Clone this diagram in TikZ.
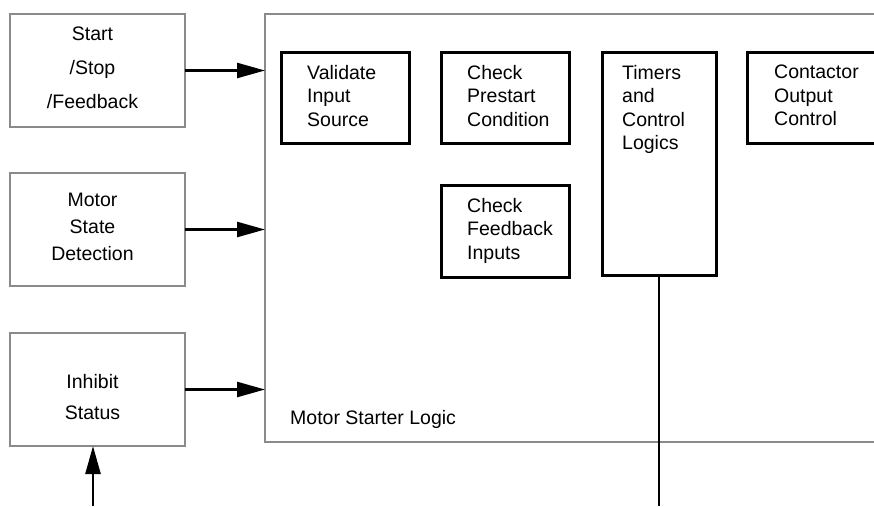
\documentclass[tikz,border=0pt]{standalone}
\usepackage{fontspec}
\setmainfont{Liberation Sans}
\usetikzlibrary{positioning, arrows.meta}
\definecolor{framegray}{HTML}{8A8A8A}

\begin{document}
\begin{tikzpicture}[
    x=1pt, y=-1pt,
    >={Triangle[length=28pt, width=15pt]},
    srcbox/.style={
      draw=framegray,
      line width=2.5pt,
      outer sep=0pt,
      minimum width=175pt,
      minimum height=113pt
    },
    srctext/.style={
      anchor=center,
      inner sep=0pt,
      xshift=-5pt,
      align=center,
      font=\fontsize{19.5}{#1}\selectfont
    },
    inbox/.style={
      draw=black,
      line width=3pt,
      outer sep=0pt,
      minimum height=91pt,
      anchor=north west
    },
    intext/.style={
      anchor=north west,
      inner sep=0pt,
      yshift=-13pt,
      align=left,
      font=\fontsize{19.5}{23.5}\selectfont
    },
    flow/.style={->, line width=2.5pt}
  ]
    \useasboundingbox (0,0) rectangle (874,506);
    \clip (0,0) rectangle (874,506);

    % inputs on the left
    \node[srcbox, anchor=north west,
          label={[srctext=34pt, yshift=3pt]center:Start\\/Stop\\/Feedback}] (start) at (10,14) {};
    \node[srcbox, below=46pt of start,
          label={[srctext=27pt, yshift=3pt]center:Motor\\State\\Detection}] (motor) {};
    \node[srcbox, below=47pt of motor,
          label={[srctext=31pt, yshift=-8pt]center:Inhibit\\Status}] (inhib) {};

    % the logic block
    \node[draw=framegray, line width=2.5pt, outer sep=0pt,
          minimum width=640pt, minimum height=428pt, anchor=north west,
          label={[anchor=base west, inner sep=0pt, xshift=25pt, yshift=18pt,
                  font=\fontsize{19.5}{23.5}\selectfont]south west:Motor Starter Logic}]
          (logic) at (265,14) {};

    \node[inbox, minimum width=128pt,
          label={[intext, xshift=26pt]north west:Validate\\Input\\Source}] (valid) at (281,52) {};
    \node[inbox, minimum width=128pt, right=32pt of valid.north east, anchor=north west,
          label={[intext, xshift=26pt]north west:Check\\Prestart\\Condition}] (pre) {};
    \node[inbox, minimum width=114pt, minimum height=223pt, right=33pt of pre.north east, anchor=north west,
          label={[intext, xshift=20pt]north west:Timers\\and\\Control\\Logics}] (timers) {};
    \node[inbox, minimum width=140pt, right=31pt of timers.north east, anchor=north west,
          label={[intext, xshift=27pt]north west:Contactor\\Output\\Control}] (contact) {};
    \node[inbox, minimum width=128pt, minimum height=92pt, below=42pt of pre, anchor=north,
          label={[intext, xshift=26pt]north west:Check\\Feedback\\Inputs}] (feed) {};

    % connections
    \coordinate (inhib-in) at (93,506);
    \coordinate (timer-out) at (658,506);

    \draw[flow] (start.east) -- (start.east -| logic.west);
    \draw[flow] (motor.east) -- (motor.east -| logic.west);
    \draw[flow] (inhib.east) -- (inhib.east -| logic.west);
    \draw[flow] (inhib-in) -- (inhib-in |- inhib.south);
    \draw[line width=2.5pt] (timers.south) -- (timers.south |- timer-out);
\end{tikzpicture}
\end{document}
